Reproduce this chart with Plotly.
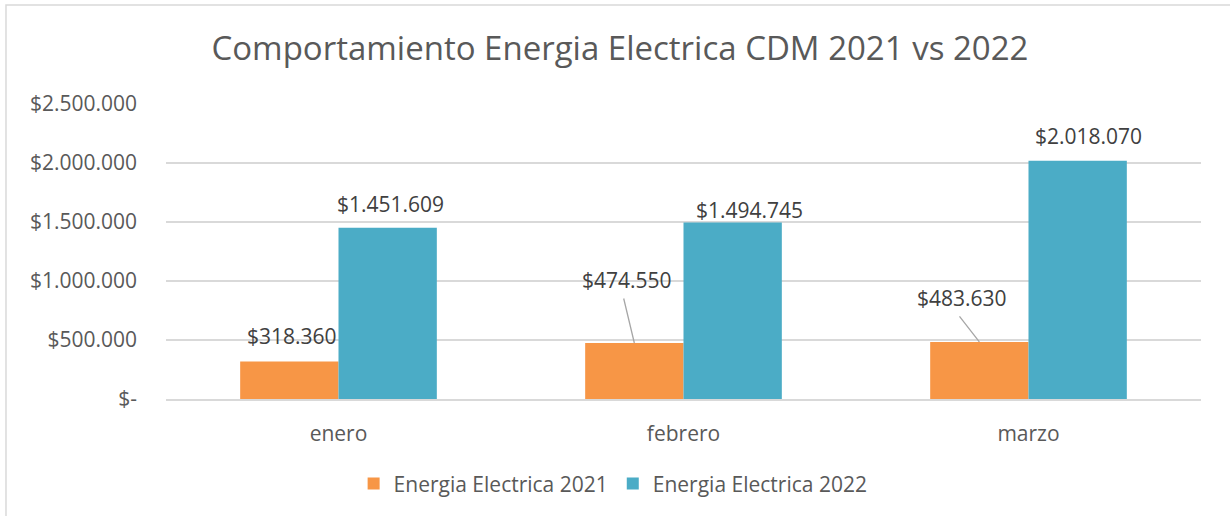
import plotly.graph_objects as go

meses = ["enero", "febrero", "marzo"]
energia_2021 = [318360, 474550, 483630]
energia_2022 = [1451609, 1494745, 2018070]

y_ticks = [0, 500000, 1000000, 1500000, 2000000, 2500000]
y_tick_text = ["$-", "$500.000", "$1.000.000", "$1.500.000", "$2.000.000", "$2.500.000"]

# desplazamiento (px) de cada etiqueta respecto al tope de su barra
pos_2021 = [(3, -25), (-7, -63), (-17, -44)]
pos_2022 = [(3, -24), (17, -13), (11, -25)]
# lineas guia de Excel: (mes, cola x, cola y) en px
guias_2021 = {1: (-11, -46), 2: (-21, -27)}

GRIS = "#595959"
FUENTE = "Open Sans"


def fmt(v):
    return "$" + f"{v:,}".replace(",", ".")


fig = go.Figure()
fig.add_trace(go.Bar(x=meses, y=energia_2021, name="Energia Electrica 2021",
                     marker=dict(color="#F79646", line=dict(width=0))))
fig.add_trace(go.Bar(x=meses, y=energia_2022, name="Energia Electrica 2022",
                     marker=dict(color="#4BACC6", line=dict(width=0))))

bargap = 0.43
offset = (1 - bargap) / 4
etiqueta = dict(size=21, color="#404040", family=FUENTE)

for serie, pos, lado in [(energia_2021, pos_2021, -1), (energia_2022, pos_2022, 1)]:
    for i, v in enumerate(serie):
        dx, dy = pos[i]
        fig.add_annotation(x=i + lado * offset, y=v, xref="x", yref="y",
                           text=fmt(v), showarrow=False, xanchor="center", yanchor="middle",
                           xshift=dx, yshift=-dy, font=etiqueta)

for i, (ax, ay) in guias_2021.items():
    fig.add_annotation(x=i - offset, y=energia_2021[i], xref="x", yref="y",
                       text="", showarrow=True, arrowhead=0, arrowwidth=1.3,
                       arrowcolor="#A6A6A6", ax=ax, ay=ay, standoff=0, startstandoff=0)

# marco del grafico
fig.add_shape(type="rect", xref="paper", yref="paper",
              x0=-0.1546, y0=-0.45, x1=1.1, y1=1.3356,
              line=dict(color="#D9D9D9", width=1.5), layer="below")

fig.update_layout(
    width=1230, height=516,
    margin=dict(l=166, r=29, t=104, b=117),
    paper_bgcolor="white", plot_bgcolor="white",
    barmode="group", bargap=bargap, bargroupgap=0,
    font=dict(family=FUENTE, color=GRIS, size=21),
    title=dict(text="Comportamiento Energia Electrica CDM 2021 vs 2022",
               x=0.4386, xref="paper", xanchor="center", y=0.907, yanchor="middle",
               font=dict(size=33, color=GRIS, family=FUENTE)),
    legend=dict(orientation="h", x=0.432, xanchor="center", y=-0.288, yanchor="middle",
                font=dict(size=21, color=GRIS), traceorder="normal", itemwidth=30),
    showlegend=True,
)
fig.update_xaxes(showgrid=False, showline=True, linecolor="#D9D9D9", linewidth=1.5,
                 ticks="outside", ticklen=0, ticklabelstandoff=15,
                 tickfont=dict(size=21, color=GRIS))
fig.update_yaxes(range=[0, 2500000], tickvals=y_ticks, ticktext=y_tick_text,
                 showgrid=True, gridcolor="#D9D9D9", gridwidth=1.5,
                 zeroline=False, showline=False, ticklabelstandoff=28,
                 tickfont=dict(size=21, color=GRIS))

fig.write_html("out.html", config={"displayModeBar": False},
               post_script="document.body.style.margin='0';")
